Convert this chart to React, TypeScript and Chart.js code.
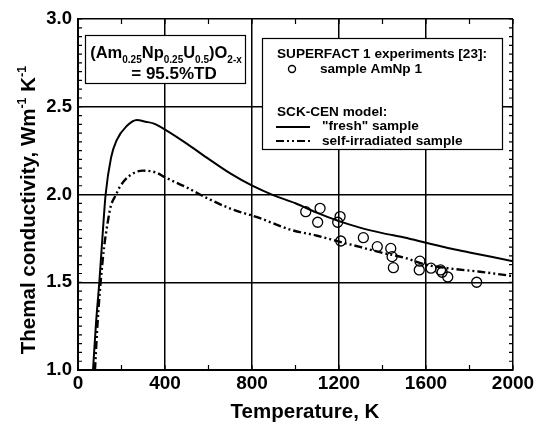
import React, { useEffect, useRef } from 'react';
import { Chart, registerables } from 'chart.js';

Chart.register(...registerables);

// ---- data ----
const freshT = [69, 83, 98, 112, 127, 152, 178, 224, 271, 310, 346, 400, 500, 592, 700, 801, 900, 1000, 1100, 1200, 1300, 1400, 1500, 1600, 1700, 1800, 1900, 2000];
const freshK = [1.0, 1.27, 1.5, 1.75, 2.0, 2.21, 2.31, 2.39, 2.425, 2.415, 2.405, 2.37, 2.29, 2.21, 2.12, 2.05, 1.995, 1.95, 1.895, 1.848, 1.81, 1.78, 1.755, 1.725, 1.695, 1.67, 1.645, 1.62];

const irrT = [78, 90, 104, 120, 136, 150, 175, 193, 240, 300, 361, 400, 500, 592, 700, 837, 975, 1100, 1205, 1300, 1391, 1500, 1600, 1700, 1848, 2000];
const irrK = [1.0, 1.27, 1.5, 1.7, 1.836, 1.93, 2.0, 2.045, 2.11, 2.136, 2.124, 2.098, 2.04, 1.98, 1.92, 1.865, 1.80, 1.765, 1.73, 1.70, 1.67, 1.64, 1.60, 1.58, 1.56, 1.535];

const expT = [1047, 1113, 1102, 1205, 1194, 1208, 1312, 1376, 1438, 1444, 1450, 1572, 1569, 1623, 1667, 1674, 1700, 1833];
const expK = [1.902, 1.921, 1.842, 1.874, 1.842, 1.735, 1.754, 1.703, 1.693, 1.646, 1.583, 1.62, 1.57, 1.58, 1.57, 1.557, 1.53, 1.50];

const xTickStep = 400;
const yTickStep = 0.5;
const xMinorStep = 200;
const yMinorStep = 0.05;

const FONT = "'Liberation Sans', Arial, sans-serif";
const IRR_DASH = [8, 3, 2, 3, 2, 3];

const toXY = (xs: number[], ys: number[]) => xs.map((x, i) => ({ x, y: ys[i] }));

function drawRich(ctx: CanvasRenderingContext2D, parts: { t: string; s?: 'sub' | 'sup' }[], x: number, y: number, size: number, small: number, align: 'left' | 'center') {
  const widths = parts.map((p) => {
    ctx.font = `bold ${p.s ? small : size}px ${FONT}`;
    return ctx.measureText(p.t).width;
  });
  const total = widths.reduce((a, b) => a + b, 0);
  let cx = align === 'center' ? x - total / 2 : x;
  parts.forEach((p, i) => {
    ctx.font = `bold ${p.s ? small : size}px ${FONT}`;
    const dy = p.s === 'sub' ? size * 0.3 : p.s === 'sup' ? -size * 0.42 : 0;
    ctx.fillText(p.t, cx, y + dy);
    cx += widths[i];
  });
}

const decorPlugin = {
  id: 'decor',
  afterDatasetsDraw(chart: any) {
    const { ctx, chartArea: ca, scales } = chart;
    const xs = scales.x;
    const ys = scales.y;
    ctx.save();
    ctx.strokeStyle = '#000';
    ctx.fillStyle = '#000';
    ctx.lineWidth = 1.2;
    // minor ticks on all four sides (inward)
    for (let v = xs.min; v <= xs.max + 1e-6; v += xMinorStep) {
      const px = xs.getPixelForValue(v);
      ctx.beginPath();
      ctx.moveTo(px, ca.bottom);
      ctx.lineTo(px, ca.bottom - 5);
      ctx.moveTo(px, ca.top);
      ctx.lineTo(px, ca.top + 5);
      ctx.stroke();
    }
    for (let v = ys.min; v <= ys.max + 1e-6; v += yMinorStep) {
      const py = ys.getPixelForValue(v);
      ctx.beginPath();
      ctx.moveTo(ca.left, py);
      ctx.lineTo(ca.left + 4, py);
      ctx.moveTo(ca.right, py);
      ctx.lineTo(ca.right - 4, py);
      ctx.stroke();
    }

    // composition box
    ctx.lineWidth = 1.2;
    ctx.fillStyle = '#fff';
    ctx.fillRect(85, 35, 160, 48);
    ctx.strokeRect(85.5, 35.5, 160, 48);
    ctx.fillStyle = '#000';
    ctx.textBaseline = 'alphabetic';
    drawRich(ctx, [
      { t: '(Am' }, { t: '0.25', s: 'sub' }, { t: 'Np' }, { t: '0.25', s: 'sub' }, { t: 'U' }, { t: '0.5', s: 'sub' }, { t: ')O' }, { t: '2-x', s: 'sub' },
    ], 166, 58, 16.5, 10, 'center');
    drawRich(ctx, [{ t: '= 95.5%TD' }], 174, 79, 17, 11, 'center');

    // legend box
    ctx.fillStyle = '#fff';
    ctx.fillRect(262, 38, 240, 111);
    ctx.strokeRect(262.5, 38.5, 240, 111);
    ctx.fillStyle = '#000';
    ctx.font = `bold 13.6px ${FONT}`;
    ctx.textBaseline = 'middle';
    ctx.fillText('SUPERFACT 1 experiments [23]:', 277, 54);
    ctx.beginPath();
    ctx.lineWidth = 1.4;
    ctx.arc(292, 69, 3.5, 0, Math.PI * 2);
    ctx.stroke();
    ctx.fillText('sample AmNp 1', 320, 69);
    ctx.fillText('SCK-CEN model:', 277, 112);
    ctx.fillText('"fresh" sample', 322, 126);
    ctx.fillText('self-irradiated sample', 322, 141);
    ctx.lineWidth = 2;
    ctx.beginPath();
    ctx.moveTo(276, 127);
    ctx.lineTo(310, 127);
    ctx.stroke();
    ctx.setLineDash(IRR_DASH);
    ctx.lineWidth = 2.2;
    ctx.beginPath();
    ctx.moveTo(276, 141);
    ctx.lineTo(310, 141);
    ctx.stroke();
    ctx.setLineDash([]);

    // axis titles
    ctx.textBaseline = 'alphabetic';
    ctx.font = `bold 20.5px ${FONT}`;
    ctx.textAlign = 'center';
    ctx.fillText('Temperature, K', 305, 418);
    ctx.textAlign = 'left';
    ctx.save();
    ctx.translate(35, 210);
    ctx.rotate(-Math.PI / 2);
    drawRich(ctx, [
      { t: 'Themal conductivity, Wm' }, { t: '-1', s: 'sup' }, { t: ' K' }, { t: '-1', s: 'sup' },
    ], 0, 0, 20.5, 12.5, 'center');
    ctx.restore();
    ctx.restore();
  },
};

export default function App() {
  const ref = useRef<HTMLCanvasElement>(null);
  useEffect(() => {
    document.body.style.margin = '0';
    const canvas = ref.current!;
    const chart = new Chart(canvas, {
      type: 'scatter',
      data: {
        datasets: [
          {
            label: 'sample AmNp 1',
            data: toXY(expT, expK),
            showLine: false,
            pointStyle: 'circle',
            pointRadius: 5,
            pointBorderWidth: 1.3,
            pointBorderColor: '#000',
            pointBackgroundColor: 'rgba(255,255,255,0)',
          },
          {
            label: '"fresh" sample',
            data: toXY(freshT, freshK),
            showLine: true,
            pointRadius: 0,
            borderColor: '#000',
            borderWidth: 2,
            cubicInterpolationMode: 'monotone',
          },
          {
            label: 'self-irradiated sample',
            data: toXY(irrT, irrK),
            showLine: true,
            pointRadius: 0,
            borderColor: '#000',
            borderWidth: 2.4,
            borderDash: IRR_DASH,
            cubicInterpolationMode: 'monotone',
          },
        ],
      },
      options: {
        animation: false,
        responsive: false,
        events: [],
        layout: { padding: { left: 0, top: 19, right: 37, bottom: 0 } },
        plugins: { legend: { display: false }, tooltip: { enabled: false } },
        scales: {
          x: {
            type: 'linear',
            min: 0,
            max: 2000,
            afterFit: (s: any) => { s.height = 58; },
            afterBuildTicks: (s: any) => {
              const t = [];
              for (let v = 0; v <= 2000; v += xTickStep) t.push({ value: v });
              s.ticks = t;
            },
            ticks: { color: '#000', font: { family: FONT, size: 19, weight: 'bold' }, padding: 2, maxRotation: 0, callback: (v: any) => String(v) },
            grid: { color: '#000', lineWidth: 1.5, drawTicks: false },
            border: { color: '#000', width: 2 },
          },
          y: {
            type: 'linear',
            min: 1,
            max: 3,
            afterFit: (s: any) => { s.width = 78; },
            afterBuildTicks: (s: any) => {
              const t = [];
              for (let v = 1; v <= 3 + 1e-9; v += yTickStep) t.push({ value: Math.round(v * 10) / 10 });
              s.ticks = t;
            },
            ticks: { color: '#000', font: { family: FONT, size: 18.5, weight: 'bold' }, padding: 6, callback: (v: any) => Number(v).toFixed(1) },
            grid: { color: '#000', lineWidth: 1.5, drawTicks: false },
            border: { color: '#000', width: 2 },
          },
        },
      },
      plugins: [decorPlugin],
    });
    return () => chart.destroy();
  }, []);
  return (
    <div style={{ width: 550, height: 428, background: '#fff' }}>
      <canvas ref={ref} width={550} height={428} style={{ display: 'block' }} />
    </div>
  );
}
